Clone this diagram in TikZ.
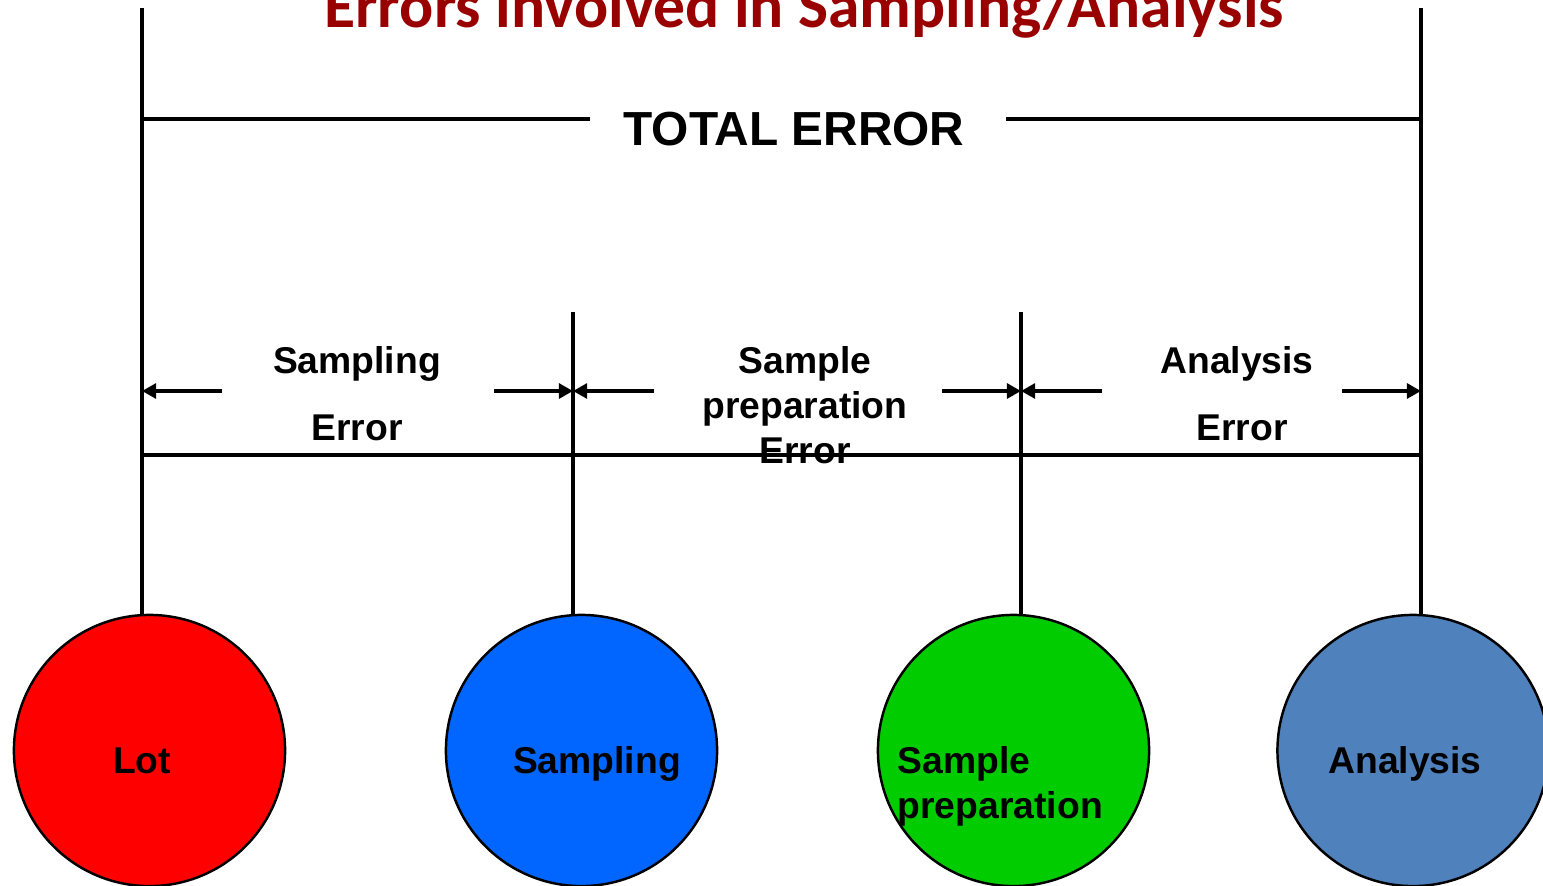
\documentclass[tikz,border=0pt]{standalone}
\usepackage{fontspec}
\setmainfont{Liberation Sans}
\newfontfamily\titlefont{Carlito}
\usetikzlibrary{arrows.meta}
\definecolor{titlered}{RGB}{153,0,0}
\definecolor{lotred}{RGB}{255,0,0}
\definecolor{sampblue}{RGB}{0,102,255}
\definecolor{prepgreen}{RGB}{0,204,0}
\definecolor{analblue}{RGB}{79,129,189}
\begin{document}
\begin{tikzpicture}[x=0.01cm,y=-0.01cm,
  rule/.style={line width=1.1pt},
  dim/.style={line width=1.1pt,-{Triangle[length=4pt,width=4.2pt]}},
  ball/.style={circle,draw,line width=0.7pt,minimum size=2.71cm,inner sep=0pt},
  lbl/.style={font=\fontsize{10.6}{12.8}\selectfont\bfseries,inner sep=0pt,anchor=base},
  lbll/.style={lbl,anchor=base west}]
\useasboundingbox (0,0) rectangle (1543,885);
\clip (0,0) rectangle (1543,885);

% title
\node[font=\titlefont\fontsize{18.1}{20}\selectfont\bfseries,text=titlered,inner sep=0pt,anchor=base]
  (title) at (804,28) {Errors involved in Sampling/Analysis};

% the four stages
\node[ball,fill=lotred]    (lot)  at (149.5,750.5) {};
\node[ball,fill=sampblue]  (samp) at (581.5,750.5) {};
\node[ball,fill=prepgreen] (prep) at (1013.5,750.5) {};
\node[ball,fill=analblue]  (anal) at (1413,750.5) {};

\node[lbl] (lotT)  at (142,773) {Lot};
\node[lbl] (sampT) at (597,773) {Sampling};
\node[lbll] (prepT1) at (897,773) {Sample};
\node[lbll] (prepT2) at (897,818) {preparation};
\node[lbl] (analT) at (1405,773) {Analysis};

% vertical rules dropping onto the circles
\coordinate (vL) at (142,8);
\coordinate (vS) at (573,312);
\coordinate (vP) at (1021,312);
\coordinate (vA) at (1421,8);
\draw[rule] (vL) -- (vL |- lot.north);
\draw[rule] (vS) -- (vS |- samp.north);
\draw[rule] (vP) -- (vP |- prep.north);
\draw[rule] (vA) -- (vA |- anal.north);

% total error span
\node[font=\fontsize{13.6}{15}\selectfont\bfseries,inner sep=0pt,anchor=base] (total) at (794,146) {TOTAL ERROR};
\coordinate (t1) at (142,119);
\coordinate (t2) at (590,119);
\coordinate (t3) at (1006,119);
\coordinate (t4) at (1421,119);
\draw[rule] (t1) -- (t2);
\draw[rule] (t3) -- (t4);

% lower span
\coordinate (b1) at (142,455);
\coordinate (b2) at (1421,455);
\draw[rule] (b1) -- (b2);

% dimension arrows
\coordinate (d0) at (142,391);
\coordinate (d1) at (222,391);
\coordinate (d2) at (494,391);
\coordinate (d3) at (573,391);
\coordinate (d4) at (654,391);
\coordinate (d5) at (942,391);
\coordinate (d6) at (1021,391);
\coordinate (d7) at (1102,391);
\coordinate (d8) at (1342,391);
\coordinate (d9) at (1421,391);
\draw[dim] (d1) -- (d0);
\draw[dim] (d2) -- (d3);
\draw[dim] (d4) -- (d3);
\draw[dim] (d5) -- (d6);
\draw[dim] (d7) -- (d6);
\draw[dim] (d8) -- (d9);

% error labels
\node[lbl] (se1) at (357,373) {Sampling};
\node[lbl] (se2) at (357,440) {Error};
\node[lbl] (pe1) at (805,373) {Sample};
\node[lbl] (pe2) at (805,418) {preparation};
\node[lbl] (pe3) at (805,463) {Error};
\node[lbl] (ae1) at (1237,373) {Analysis};
\node[lbl] (ae2) at (1242,440) {Error};
\end{tikzpicture}
\end{document}
